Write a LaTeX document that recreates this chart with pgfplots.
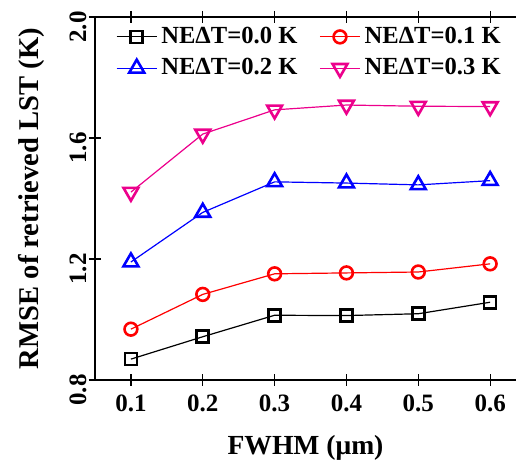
\documentclass[border=0pt]{standalone}
\usepackage{pgfplots}
\pgfplotsset{compat=1.18}
\usepackage{fontspec}
\setmainfont{Liberation Serif}
\begin{document}
\begin{tikzpicture}
\useasboundingbox (-47.5pt,-43pt) rectangle (210.5pt,190pt);
\begin{axis}[
  scale only axis, width=210.5pt, height=181.5pt,
  at={(0,0)}, anchor=south west,
  xmin=0.05, xmax=0.636, ymin=0.8, ymax=2.0,
  axis x line=box, axis y line=left, axis line style={-, line width=0.8pt},
  xtick={0.1,0.2,0.3,0.4,0.5,0.6},
  ytick={0.8,1.2,1.6,2.0},
  xticklabels={0.1,0.2,0.3,0.4,0.5,0.6},
  yticklabels={0.8,1.2,1.6,2.0},
  tick align=center, major tick length=6pt,
  tick style={black, line width=0.6pt},
  minor tick num=0,
  xticklabel style={font=\fontsize{12.5}{14}\selectfont\bfseries, inner sep=1pt, yshift=-3pt},
  yticklabel style={font=\fontsize{12.5}{14}\selectfont\bfseries, rotate=90, anchor=south, inner sep=1pt, xshift=-5pt},
  xlabel={FWHM (μm)}, ylabel={RMSE of retrieved LST (K)},
  xlabel style={font=\fontsize{13.8}{15}\selectfont\bfseries, yshift=-7.5pt},
  ylabel style={font=\fontsize{14.3}{15}\selectfont\bfseries, yshift=8pt},
  legend columns=2,
  legend style={draw=none, fill=none, at={(0.035,0.995)}, anchor=north west,
    font=\fontsize{12.3}{14}\selectfont\bfseries, row sep=2pt,
    /tikz/every even column/.append style={column sep=9pt}},
  legend image code/.code={\draw[#1, mark repeat=2, mark phase=2] plot coordinates {(0pt,0pt) (10pt,0pt) (20pt,0pt)};},
]
\addplot[black, line width=0.6pt, mark=square, mark size=3pt, mark options={line width=1.3pt, solid}]
  coordinates {(0.1,0.869) (0.2,0.943) (0.3,1.014) (0.4,1.013) (0.5,1.019) (0.6,1.057)};
\addlegendentry{NEΔT=0.0 K}
\addplot[red, line width=0.6pt, mark=o, mark size=3.2pt, mark options={line width=1.3pt, solid}]
  coordinates {(0.1,0.968) (0.2,1.083) (0.3,1.151) (0.4,1.154) (0.5,1.157) (0.6,1.184)};
\addlegendentry{NEΔT=0.1 K}
\addplot[blue, line width=0.6pt, mark=triangle, mark size=4.3pt, mark options={line width=1.3pt, solid}]
  coordinates {(0.1,1.19) (0.2,1.354) (0.3,1.455) (0.4,1.451) (0.5,1.445) (0.6,1.459)};
\addlegendentry{NEΔT=0.2 K}
\addplot[magenta, line width=0.6pt, mark=triangle, mark size=4.3pt, mark options={line width=1.3pt, solid, rotate=180}]
  coordinates {(0.1,1.421) (0.2,1.613) (0.3,1.693) (0.4,1.709) (0.5,1.705) (0.6,1.704)};
\addlegendentry{NEΔT=0.3 K}
\end{axis}
\end{tikzpicture}
\end{document}
